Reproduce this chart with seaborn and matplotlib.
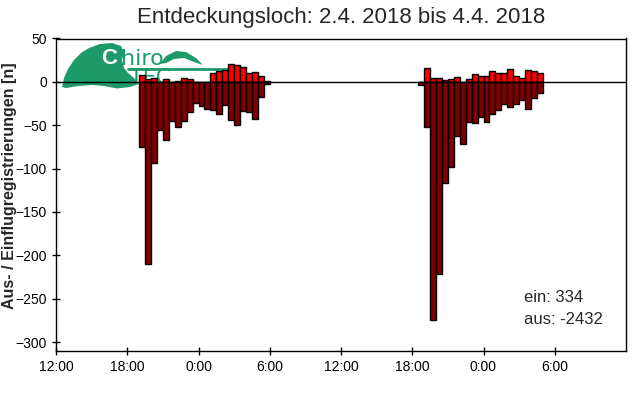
import matplotlib
matplotlib.use("Agg")
import matplotlib.pyplot as plt
from matplotlib.patches import Polygon
import numpy as np
import pandas as pd
import seaborn as sns

# ---------------- data ----------------
night1_times = ["19:00", "19:30", "20:00", "20:30", "21:00", "21:30", "22:00", "22:30",
                "23:00", "23:30", "0:00", "0:30", "1:00", "1:30", "2:00", "2:30",
                "3:00", "3:30", "4:00", "4:30", "5:00", "5:30"]
night1_ein = [8, 3, 5, 0, 3, 0, 1, 5, 3, 0, 0, 0, 10, 13, 14, 21, 19, 17, 10, 11, 7, 1]
night1_aus = [-75, -210, -94, -56, -67, -45, -52, -45, -35, -24, -28, -31, -32, -37,
              -27, -44, -50, -34, -35, -43, -17, -2]

night2_times = ["18:30", "19:00", "19:30", "20:00", "20:30", "21:00", "21:30", "22:00",
                "22:30", "23:00", "23:30", "0:00", "0:30", "1:00", "1:30", "2:00",
                "2:30", "3:00", "3:30", "4:00", "4:30"]
night2_ein = [0, 16, 5, 5, 2, 3, 6, 0, 3, 9, 7, 7, 13, 10, 10, 15, 7, 5, 14, 12, 10]
night2_aus = [-4, -52, -275, -222, -117, -98, -62, -72, -46, -47, -40, -46, -37, -33,
              -26, -29, -26, -21, -31, -19, -13]

tick_labels = ["12:00", "18:00", "0:00", "6:00", "12:00", "18:00", "0:00", "6:00"]
total_ein = 334
total_aus = -2432
title = "Entdeckungsloch: 2.4. 2018 bis 4.4. 2018"
ylabel = "Aus- / Einflugregistrierungen [n]"


def to_hours(t, day_offset):
    h, m = map(int, t.split(":"))
    v = h + m / 60 - 12
    if v < 0:
        v += 24
    return v + day_offset + 0.25  # bar centre of 30-min bin


rows = []
for times, ein, aus, off in [(night1_times, night1_ein, night1_aus, 0),
                             (night2_times, night2_ein, night2_aus, 24)]:
    for t, e, a in zip(times, ein, aus):
        rows.append({"t": to_hours(t, off), "ein": e, "aus": a})
df = pd.DataFrame(rows)

# ---------------- style ----------------
sns.set_style("ticks")
plt.rcParams["font.family"] = ["Liberation Sans", "DejaVu Sans"]

fig = plt.figure(figsize=(6.4, 4.0), dpi=100)
W, H = 640, 400
ax = fig.add_axes([56 / W, 1 - 350.7 / H, 570 / W, 312.2 / H])


def px(x, y):
    return (x / W, 1 - y / H)


# ---------------- logo (decoration) ----------------
green = "#1c9a6a"
dome = [(62, 87), (64, 78), (68, 69), (74, 60), (81, 53), (89, 48), (100, 44),
        (112, 43), (121, 46), (124, 52), (122, 60), (124, 68), (128, 73),
        (134, 78), (139, 84), (130, 87), (117, 88.5), (104, 86), (92, 85),
        (78, 86), (66, 88)]
ax.add_patch(Polygon([px(*p) for p in dome], closed=True, transform=fig.transFigure,
                     facecolor=green, edgecolor="none", zorder=0.5))
arch = [(160, 64), (166, 56), (176, 51), (186, 52), (196, 58), (203, 65),
        (194, 62), (184, 58), (174, 59), (166, 63)]
ax.add_patch(Polygon([px(*p) for p in arch], closed=True, transform=fig.transFigure,
                     facecolor=green, edgecolor="none", zorder=0.5))
ax.text(*px(101, 58), "C", transform=fig.transFigure, color="white", fontsize=16,
        fontweight="bold", ha="left", va="center", zorder=0.6)
ax.text(*px(121, 59), "hiro", transform=fig.transFigure, color=green, fontsize=16,
        family="DejaVu Sans", ha="left", va="center", zorder=0.6)
ax.plot([128 / W, 230 / W], [1 - 69 / H, 1 - 69 / H], transform=fig.transFigure,
        color=green, lw=2, zorder=0.6)
ax.text(*px(130, 78), "TEC", transform=fig.transFigure, color=green, fontsize=15,
        family="DejaVu Sans", ha="left", va="center", zorder=0.6)

# ---------------- bars ----------------
sns.barplot(data=df, x="t", y="ein", native_scale=True, width=1, color="#ff0000",
            saturation=1, edgecolor="black", linewidth=1, errorbar=None, ax=ax, zorder=2)
sns.barplot(data=df, x="t", y="aus", native_scale=True, width=1, color="#800000",
            saturation=1, edgecolor="black", linewidth=1, errorbar=None, ax=ax, zorder=2)

ax.axhline(0, color="black", lw=1, zorder=3)

ax.set_xlim(0, 48)
ax.set_ylim(-310, 50)
ax.set_xticks(np.arange(0, 48, 6))
ax.set_xticklabels(tick_labels)
ax.set_yticks(np.arange(-300, 51, 50))
ax.set_xlabel("")
ax.set_ylabel("")
ax.tick_params(direction="inout", length=6, width=1, colors="black", labelsize=10)
for s in ax.spines.values():
    s.set_visible(True)
    s.set_color("black")
    s.set_linewidth(1)

ax.text((524 - 56) / 570, (350.7 - 298) / 312.2, f"ein: {total_ein}",
        transform=ax.transAxes, fontsize=12, ha="left", va="center")
ax.text((524 - 56) / 570, (350.7 - 320) / 312.2, f"aus: {total_aus}",
        transform=ax.transAxes, fontsize=12, ha="left", va="center")

fig.text(341 / W, 1 - 18 / H, title, fontsize=16, ha="center", va="center")
fig.text(10 / W, 1 - 186 / H, ylabel, fontsize=11.5, fontweight="bold",
         rotation=90, ha="center", va="center")

fig.savefig("out.png", dpi=100)
